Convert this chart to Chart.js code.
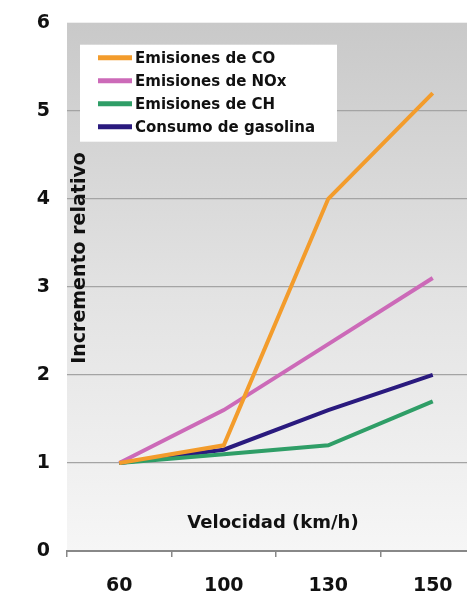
<!DOCTYPE html>
<html lang="es">
<head>
<meta charset="UTF-8">
<title>Incremento relativo</title>
<script src="https://cdn.jsdelivr.net/npm/chart.js"></script>
<style>
  html, body { margin: 0; padding: 0; background: #fff; overflow: hidden; }
  .wrap { width: 490px; height: 594px; }
</style>
</head>
<body>
<div class="wrap">
  <canvas id="grafico" width="490" height="594"></canvas>
</div>
<script>
// datos
const velocidades = ['60', '100', '130', '150'];
const emisionesCO = [1, 1.2, 4, 5.2];
const emisionesNOx = [1, 1.6, 2.35, 3.1];
const emisionesCH = [1, 1.1, 1.2, 1.7];
const consumoGasolina = [1, 1.15, 1.6, 2];
const ticksY = [0, 1, 2, 3, 4, 5, 6];

const fuente = '"DejaVu Sans", Arial, sans-serif';

// fondo degradado, titulos y leyenda dentro del area del grafico
const decoracion = {
  id: 'decoracion',
  beforeDraw(chart) {
    const { ctx, chartArea: a } = chart;
    const g = ctx.createLinearGradient(0, a.top, 0, a.bottom);
    g.addColorStop(0, '#c9c9c9');
    g.addColorStop(0.5, '#e2e2e2');
    g.addColorStop(1, '#f6f6f6');
    ctx.save();
    ctx.fillStyle = g;
    ctx.fillRect(a.left, a.top, a.right - a.left, a.bottom - a.top);
    ctx.restore();
  },
  afterDatasetsDraw(chart) {
    const { ctx, chartArea: a } = chart;
    ctx.save();
    // titulo eje y
    ctx.fillStyle = '#111';
    ctx.font = 'bold 19px ' + fuente;
    ctx.textAlign = 'center';
    ctx.textBaseline = 'middle';
    ctx.translate(a.left + 13, 258);
    ctx.rotate(-Math.PI / 2);
    ctx.fillText('Incremento relativo', 0, 0);
    ctx.restore();

    ctx.save();
    ctx.fillStyle = '#111';
    ctx.font = 'bold 18px ' + fuente;
    ctx.textAlign = 'center';
    ctx.textBaseline = 'middle';
    ctx.fillText('Velocidad (km/h)', 273, a.bottom - 28);

    // leyenda
    const x0 = a.left + 13, y0 = a.top + 22;
    ctx.fillStyle = '#fff';
    ctx.fillRect(x0, y0, 257, 97);
    ctx.font = 'bold 15px ' + fuente;
    ctx.textAlign = 'left';
    chart.data.datasets.forEach((ds, i) => {
      const y = y0 + 13 + i * 23;
      ctx.strokeStyle = ds.borderColor;
      ctx.lineWidth = 5;
      ctx.beginPath();
      ctx.moveTo(x0 + 18, y);
      ctx.lineTo(x0 + 52, y);
      ctx.stroke();
      ctx.fillStyle = '#111';
      ctx.fillText(ds.label, x0 + 55, y + 1);
    });
    ctx.restore();
  }
};

new Chart(document.getElementById('grafico'), {
  type: 'line',
  data: {
    labels: velocidades,
    datasets: [
      { label: 'Emisiones de CO', data: emisionesCO, borderColor: '#f39c2c' },
      { label: 'Emisiones de NOx', data: emisionesNOx, borderColor: '#cc6ab8' },
      { label: 'Emisiones de CH', data: emisionesCH, borderColor: '#2f9e67' },
      { label: 'Consumo de gasolina', data: consumoGasolina, borderColor: '#2a1a7e' }
    ]
  },
  options: {
    responsive: false,
    animation: false,
    layout: { padding: { top: 20, right: 5, left: 0, bottom: 0 } },
    elements: {
      line: { borderWidth: 4, tension: 0, borderCapStyle: 'butt' },
      point: { radius: 0 }
    },
    plugins: { legend: { display: false }, tooltip: { enabled: false } },
    scales: {
      x: {
        offset: true,
        grid: { offset: true, drawOnChartArea: false, drawTicks: true, tickLength: 6, color: '#888', lineWidth: 1.5 },
        border: { display: true, color: '#888', width: 2 },
        ticks: { color: '#111', padding: 18, font: { family: fuente, size: 19, weight: 'bold' } },
        afterFit(s) { s.height = 43; }
      },
      y: {
        min: 0,
        max: 6,
        afterBuildTicks(s) { s.ticks = ticksY.map(v => ({ value: v })); },
        grid: {
          drawTicks: false,
          color: ctx => (ctx.tick.value === 0 || ctx.tick.value === 6) ? 'rgba(0,0,0,0)' : '#a4a4a4',
          lineWidth: 1.2
        },
        border: { display: false },
        ticks: { color: '#111', padding: 17, font: { family: fuente, size: 19, weight: 'bold', lineHeight: 0.6 } },
        afterFit(s) { s.width = 67; }
      }
    }
  },
  plugins: [decoracion]
});
</script>
</body>
</html>
